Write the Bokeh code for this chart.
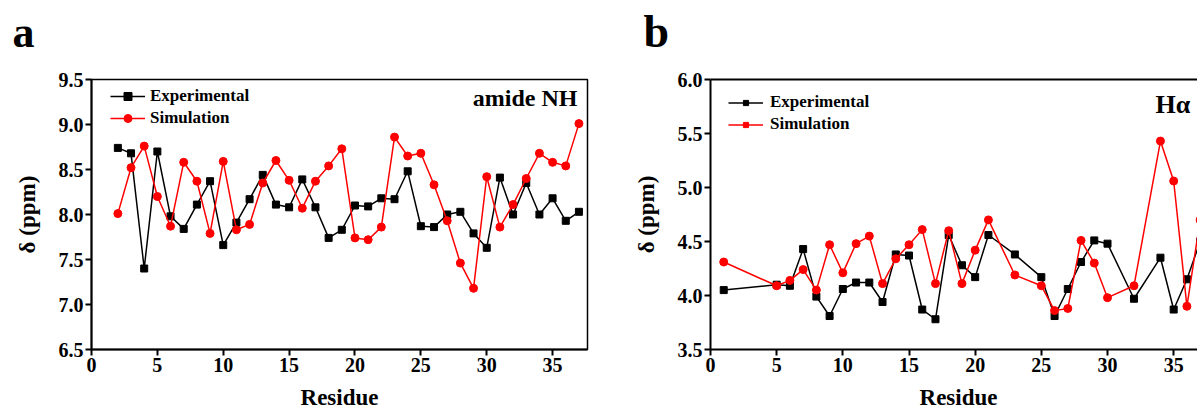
from bokeh.plotting import figure
from bokeh.layouts import row, column
from bokeh.models import (Range1d, FixedTicker, PrintfTickFormatter, Label, Legend,
                          LegendItem, LinearAxis, ColumnDataSource)
from bokeh.embed import file_html
from bokeh.resources import INLINE

# ---------------- data ----------------
res_nh = list(range(2, 38))
exp_nh = [8.74, 8.68, 7.40, 8.70, 7.98, 7.84, 8.11, 8.37, 7.66, 7.91, 8.17, 8.44,
          8.11, 8.08, 8.39, 8.08, 7.74, 7.83, 8.10, 8.09, 8.18, 8.17, 8.48, 7.87,
          7.86, 8.00, 8.03, 7.79, 7.63, 8.41, 8.00, 8.35, 8.00, 8.18, 7.93, 8.03]
sim_nh = [8.01, 8.52, 8.76, 8.20, 7.87, 8.58, 8.37, 7.79, 8.59, 7.83, 7.89, 8.35,
          8.60, 8.38, 8.07, 8.37, 8.54, 8.73, 7.74, 7.72, 7.86, 8.86, 8.65, 8.68,
          8.33, 7.93, 7.46, 7.18, 8.42, 7.86, 8.11, 8.40, 8.68, 8.58, 8.54, 9.01]

res_ha = [1, 5, 6, 7, 8, 9, 10, 11, 12, 13, 14, 15, 16, 17, 18, 19, 20, 21, 23,
          25, 26, 27, 28, 29, 30, 32, 34, 35, 36, 37]
exp_ha = [4.05, 4.10, 4.09, 4.43, 3.99, 3.81, 4.06, 4.12, 4.12, 3.94, 4.38, 4.37,
          3.87, 3.78, 4.56, 4.28, 4.17, 4.56, 4.38, 4.17, 3.81, 4.06, 4.31, 4.51,
          4.48, 3.97, 4.35, 3.87, 4.15, 4.50]
sim_ha = [4.31, 4.09, 4.14, 4.24, 4.05, 4.47, 4.21, 4.48, 4.55, 4.11, 4.34, 4.47,
          4.61, 4.11, 4.60, 4.11, 4.42, 4.70, 4.19, 4.09, 3.86, 3.88, 4.51, 4.30,
          3.98, 4.09, 5.43, 5.06, 3.90, 4.70]

x_ticks = [0, 5, 10, 15, 20, 25, 30, 35]
y_ticks_nh = [6.5, 7.0, 7.5, 8.0, 8.5, 9.0, 9.5]
y_ticks_ha = [3.5, 4.0, 4.5, 5.0, 5.5, 6.0]

FONT = "Liberation Serif"
TOP_H = 62      # strip holding the panel letters
BOT_H = 29      # strip holding the x-axis titles
MAIN_H = 409 - TOP_H - BOT_H


def style_axes(p, yticks):
    p.xaxis.ticker = FixedTicker(ticks=x_ticks)
    p.yaxis.ticker = FixedTicker(ticks=yticks)
    p.yaxis.formatter = PrintfTickFormatter(format="%.1f")
    for ax in list(p.xaxis) + list(p.yaxis):
        ax.axis_line_width = 2
        ax.axis_line_color = "black"
        ax.major_tick_line_width = 2
        ax.major_tick_line_color = "black"
        ax.major_tick_in = 0
        ax.major_tick_out = 6
        ax.minor_tick_line_color = None
        ax.major_label_text_font = FONT
        ax.major_label_text_font_style = "bold"
        ax.major_label_text_font_size = "20px"
        ax.major_label_text_color = "black"
        ax.major_label_standoff = 2
        ax.axis_label_text_font = FONT
        ax.axis_label_text_font_style = "bold"
        ax.axis_label_text_font_size = "23px"
        ax.axis_label_text_color = "black"
    p.yaxis.axis_label = "δ (ppm)"
    p.yaxis.axis_label_standoff = 16
    p.xgrid.visible = False
    p.ygrid.visible = False


def strip(w, h):
    f = figure(width=w, height=h, output_backend="svg", toolbar_location=None,
               x_axis_location=None, y_axis_location=None, min_border=0,
               x_range=Range1d(0, 1), y_range=Range1d(0, 1))
    f.outline_line_color = None
    f.xgrid.visible = False
    f.ygrid.visible = False
    return f


def text_label(x, y, text, size, align="left"):
    return Label(x=x, y=y, x_units="screen", y_units="screen", text=text,
                 text_font=FONT, text_font_style="bold", text_font_size=size,
                 text_align=align, text_baseline="alphabetic", text_color="black")


def make_legend(items, loc, glyph_h, standoff):
    return Legend(items=items, location=loc, glyph_width=35, glyph_height=glyph_h,
                  label_height=20, label_standoff=standoff, padding=0, spacing=2,
                  margin=0, background_fill_alpha=0, border_line_color=None,
                  label_text_font=FONT, label_text_font_style="bold",
                  label_text_font_size="17px", label_text_color="black")


# ---------------- panel a ----------------
pa = figure(width=620, height=MAIN_H, output_backend="svg", toolbar_location=None,
            x_range=Range1d(0, 37.65), y_range=Range1d(6.5, 9.5),
            min_border_left=91, min_border_right=33, min_border_top=79 - TOP_H,
            min_border_bottom=409 - BOT_H - 349)
pa.outline_line_color = "black"
pa.outline_line_width = 1.5
style_axes(pa, y_ticks_nh)

src_a = ColumnDataSource(dict(r=res_nh, e=exp_nh, s=sim_nh))
la1 = pa.line("r", "e", source=src_a, color="black", line_width=1.5)
sa1 = pa.scatter("r", "e", source=src_a, marker="square", size=7, color="black")
la2 = pa.line("r", "s", source=src_a, color="red", line_width=1.5)
sa2 = pa.scatter("r", "s", source=src_a, marker="circle", size=8, color="red")

pa.add_layout(make_legend([LegendItem(label="Experimental", renderers=[la1, sa1]),
                           LegendItem(label="Simulation", renderers=[la2, sa2])],
                          (19, 221), 20, 5))
pa.add_layout(text_label(486, 252, "amide NH", "24px", "right"))

# ---------------- panel b ----------------
pb = figure(width=577, height=MAIN_H, output_backend="svg", toolbar_location=None,
            x_range=Range1d(0, 36.8), y_range=Range1d(3.5, 6.0),
            min_border_left=90, min_border_right=0, min_border_top=79 - TOP_H,
            min_border_bottom=409 - BOT_H - 349)
pb.outline_line_color = None
style_axes(pb, y_ticks_ha)
top_axis = LinearAxis(ticker=FixedTicker(ticks=[]), major_label_text_font_size="0px",
                      axis_line_width=2, axis_line_color="black",
                      major_tick_line_color=None, minor_tick_line_color=None)
pb.add_layout(top_axis, "above")

src_b = ColumnDataSource(dict(r=res_ha, e=exp_ha, s=sim_ha))
lb1 = pb.line("r", "e", source=src_b, color="black", line_width=1.5)
sb1 = pb.scatter("r", "e", source=src_b, marker="square", size=7, color="black")
lb2 = pb.line("r", "s", source=src_b, color="red", line_width=1.5)
pb.scatter("r", "s", source=src_b, marker="circle", size=8, color="red")
# zero-size square copy of the simulation series: shows a red square in the legend only
pr = pb.scatter("r", "s", source=src_b, marker="square", size=0, color="red")

pb.add_layout(make_legend([LegendItem(label="Experimental", renderers=[lb1, sb1]),
                           LegendItem(label="Simulation", renderers=[lb2, pr])],
                          (18, 215), 13, 7))
pb.add_layout(text_label(445, 245, "Hα", "26px"))

# ---------------- strips: panel letters above, x-axis titles below ----------------
ta = strip(620, TOP_H)
ta.add_layout(text_label(12, 30, "a", "44px"))
tb = strip(577, TOP_H)
tb.add_layout(text_label(23, 31, "b", "46px"))

ba = strip(620, BOT_H)
ba.add_layout(text_label(339, 12, "Residue", "23px", "center"))
bb = strip(577, BOT_H)
bb.add_layout(text_label(338, 12, "Residue", "23px", "center"))

layout = column(row(ta, tb, spacing=0), row(pa, pb, spacing=0), row(ba, bb, spacing=0),
                spacing=0)
open("out.html", "w").write(file_html(layout, INLINE))
